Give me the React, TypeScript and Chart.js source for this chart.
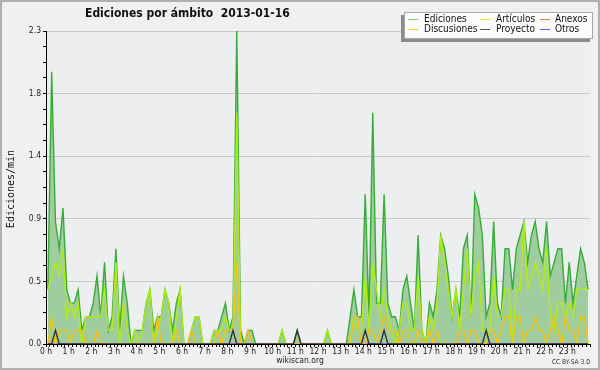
import React, { useEffect, useRef } from "react";
import { Chart, registerables } from "chart.js";

Chart.register(...registerables);

// 10-minute slots, 2013-01-16, edits per minute
const SLOT_MINUTES = 10;

const EDICIONES = [
  0.4, 2.0, 0.9, 0.7, 1.0, 0.4, 0.3, 0.3, 0.4, 0.1, 0.2, 0.2,
  0.3, 0.5, 0.2, 0.6, 0.1, 0.2, 0.7, 0.1, 0.5, 0.3, 0.0, 0.1,
  0.1, 0.1, 0.3, 0.4, 0.1, 0.2, 0.2, 0.4, 0.3, 0.1, 0.3, 0.4,
  0.0, 0.0, 0.1, 0.2, 0.2, 0.0, 0.0, 0.0, 0.1, 0.1, 0.2, 0.3,
  0.1, 0.2, 2.3, 0.1, 0.0, 0.1, 0.1, 0.0, 0.0, 0.0, 0.0, 0.0,
  0.0, 0.0, 0.1, 0.0, 0.0, 0.0, 0.1, 0.0, 0.0, 0.0, 0.0, 0.0,
  0.0, 0.0, 0.1, 0.0, 0.0, 0.0, 0.0, 0.0, 0.2, 0.4, 0.2, 0.2,
  1.1, 0.2, 1.7, 0.3, 0.3, 1.1, 0.3, 0.2, 0.2, 0.1, 0.4, 0.5,
  0.3, 0.1, 0.8, 0.1, 0.0, 0.3, 0.2, 0.4, 0.8, 0.7, 0.5, 0.2,
  0.4, 0.2, 0.7, 0.8, 0.2, 1.1, 1.0, 0.8, 0.2, 0.3, 0.9, 0.3,
  0.2, 0.7, 0.7, 0.4, 0.7, 0.8, 0.9, 0.6, 0.8, 0.9, 0.7, 0.6,
  0.9, 0.5, 0.6, 0.7, 0.7, 0.3, 0.6, 0.3, 0.5, 0.7, 0.6, 0.4,
];

const ARTICULOS = [
  0.4, 0.5, 0.6, 0.5, 0.7, 0.2, 0.3, 0.2, 0.3, 0.0, 0.2, 0.2,
  0.2, 0.2, 0.2, 0.4, 0.1, 0.1, 0.6, 0.0, 0.3, 0.1, 0.0, 0.1,
  0.0, 0.1, 0.3, 0.4, 0.0, 0.1, 0.2, 0.4, 0.3, 0.0, 0.2, 0.4,
  0.0, 0.0, 0.1, 0.2, 0.2, 0.0, 0.0, 0.0, 0.1, 0.1, 0.1, 0.2,
  0.1, 0.1, 1.7, 0.0, 0.0, 0.0, 0.0, 0.0, 0.0, 0.0, 0.0, 0.0,
  0.0, 0.0, 0.1, 0.0, 0.0, 0.0, 0.0, 0.0, 0.0, 0.0, 0.0, 0.0,
  0.0, 0.0, 0.1, 0.0, 0.0, 0.0, 0.0, 0.0, 0.0, 0.2, 0.1, 0.1,
  0.5, 0.1, 0.6, 0.4, 0.2, 0.4, 0.2, 0.1, 0.0, 0.1, 0.3, 0.3,
  0.1, 0.1, 0.5, 0.1, 0.0, 0.2, 0.1, 0.3, 0.8, 0.6, 0.4, 0.2,
  0.4, 0.1, 0.4, 0.7, 0.2, 0.5, 0.6, 0.1, 0.1, 0.1, 0.5, 0.2,
  0.2, 0.4, 0.4, 0.0, 0.4, 0.4, 0.9, 0.4, 0.5, 0.6, 0.5, 0.4,
  0.7, 0.2, 0.1, 0.3, 0.3, 0.2, 0.3, 0.2, 0.4, 0.4, 0.4, 0.4,
];

const DISCUSIONES = [
  0.0, 0.2, 0.0, 0.1, 0.1, 0.1, 0.0, 0.1, 0.1, 0.1, 0.0, 0.0,
  0.0, 0.1, 0.0, 0.0, 0.0, 0.0, 0.0, 0.0, 0.0, 0.0, 0.0, 0.0,
  0.0, 0.0, 0.0, 0.0, 0.0, 0.2, 0.0, 0.0, 0.0, 0.0, 0.1, 0.0,
  0.0, 0.0, 0.1, 0.0, 0.0, 0.0, 0.0, 0.0, 0.0, 0.1, 0.0, 0.1,
  0.1, 0.1, 0.6, 0.0, 0.0, 0.1, 0.0, 0.0, 0.0, 0.0, 0.0, 0.0,
  0.0, 0.0, 0.0, 0.0, 0.0, 0.0, 0.0, 0.0, 0.0, 0.0, 0.0, 0.0,
  0.0, 0.0, 0.0, 0.0, 0.0, 0.0, 0.0, 0.0, 0.0, 0.2, 0.2, 0.0,
  0.0, 0.1, 0.1, 0.0, 0.1, 0.2, 0.1, 0.1, 0.1, 0.0, 0.1, 0.1,
  0.0, 0.0, 0.1, 0.0, 0.0, 0.1, 0.0, 0.1, 0.0, 0.0, 0.0, 0.0,
  0.0, 0.1, 0.1, 0.0, 0.1, 0.1, 0.0, 0.0, 0.0, 0.1, 0.1, 0.0,
  0.1, 0.2, 0.2, 0.0, 0.2, 0.2, 0.0, 0.1, 0.1, 0.2, 0.1, 0.1,
  0.0, 0.1, 0.2, 0.1, 0.0, 0.2, 0.1, 0.1, 0.0, 0.2, 0.2, 0.0,
];

const PROYECTO = [
  0.0, 0.0, 0.1, 0.0, 0.0, 0.0, 0.0, 0.0, 0.0, 0.0, 0.0, 0.0,
  0.0, 0.0, 0.0, 0.0, 0.0, 0.0, 0.0, 0.0, 0.0, 0.0, 0.0, 0.0,
  0.0, 0.0, 0.0, 0.0, 0.0, 0.0, 0.0, 0.0, 0.0, 0.0, 0.0, 0.0,
  0.0, 0.0, 0.0, 0.0, 0.0, 0.0, 0.0, 0.0, 0.0, 0.0, 0.0, 0.0,
  0.0, 0.1, 0.0, 0.0, 0.0, 0.0, 0.0, 0.0, 0.0, 0.0, 0.0, 0.0,
  0.0, 0.0, 0.0, 0.0, 0.0, 0.0, 0.1, 0.0, 0.0, 0.0, 0.0, 0.0,
  0.0, 0.0, 0.0, 0.0, 0.0, 0.0, 0.0, 0.0, 0.0, 0.0, 0.0, 0.0,
  0.1, 0.0, 0.0, 0.0, 0.0, 0.1, 0.0, 0.0, 0.0, 0.0, 0.0, 0.0,
  0.0, 0.0, 0.0, 0.0, 0.0, 0.0, 0.0, 0.0, 0.0, 0.0, 0.0, 0.0,
  0.0, 0.0, 0.0, 0.0, 0.0, 0.0, 0.0, 0.0, 0.1, 0.0, 0.0, 0.0,
  0.0, 0.0, 0.0, 0.0, 0.0, 0.0, 0.0, 0.0, 0.0, 0.0, 0.0, 0.0,
  0.0, 0.0, 0.0, 0.0, 0.0, 0.0, 0.0, 0.0, 0.0, 0.0, 0.0, 0.0,
];

const ANEXOS: number[] = new Array(144).fill(0);
const OTROS: number[] = new Array(144).fill(0);

const Y_MAX = 2.3;
const Y_MINOR_STEPS = 20; // 5 labelled intervals, 4 minor steps each
const X_MAX_MINUTES = 1440;

const TITLE = "Ediciones por ámbito  2013-01-16";
const Y_TITLE = "Ediciones/min";
const FOOTER = "wikiscan.org";
const LICENSE = "CC BY-SA 3.0";

const LEGEND = [
  { label: "Ediciones", color: "#7fd07f" },
  { label: "Artículos", color: "#c8f030" },
  { label: "Anexos", color: "#ff7040" },
  { label: "Discusiones", color: "#ffcc33" },
  { label: "Proyecto", color: "#555555" },
  { label: "Otros", color: "#8844ee" },
];

const COND = "'DejaVu Sans Condensed', 'DejaVu Sans', sans-serif";

export default function App() {
  const ref = useRef<HTMLCanvasElement>(null);

  useEffect(() => {
    const canvas = ref.current!;
    const pts = (arr: number[]) =>
      arr.map((v, i) => ({ x: (i + 0.5) * SLOT_MINUTES, y: v }));

    const plotBg = {
      id: "plotBg",
      beforeDraw(chart: any) {
        const { ctx, chartArea: ca } = chart;
        ctx.save();
        ctx.fillStyle = "#f0f0f0";
        ctx.fillRect(0, 0, chart.width, chart.height);
        ctx.fillStyle = "#edeef0";
        ctx.fillRect(ca.left, ca.top, ca.right - ca.left, ca.bottom - ca.top);
        ctx.restore();
      },
    };

    const tickFont = { family: COND, size: 8.5 };

    const chart = new Chart(canvas, {
      type: "line",
      data: {
        datasets: [
          { label: "Proyecto", data: pts(PROYECTO), borderColor: "#333333", order: 1 },
          { label: "Discusiones", data: pts(DISCUSIONES), borderColor: "#f2c40c", order: 2 },
          { label: "Otros", data: pts(OTROS), borderColor: "#8844ee", order: 3 },
          { label: "Anexos", data: pts(ANEXOS), borderColor: "#ff7040", order: 4 },
          { label: "Artículos", data: pts(ARTICULOS), borderColor: "#b0ec14", order: 5 },
          {
            label: "Ediciones",
            data: pts(EDICIONES),
            borderColor: "#38ac38",
            backgroundColor: "#a0cd9f",
            fill: "origin",
            order: 6,
          },
        ],
      },
      options: {
        animation: false,
        responsive: false,
        events: [],
        layout: { padding: { top: 31, right: 10, left: 0, bottom: 0 } },
        plugins: { legend: { display: false }, tooltip: { enabled: false }, title: { display: false } },
        elements: {
          point: { radius: 0 },
          line: { tension: 0, borderWidth: 1.4, fill: false },
        },
        scales: {
          x: {
            type: "linear",
            min: 0,
            max: X_MAX_MINUTES,
            z: 1,
            afterBuildTicks: (s: any) => {
              s.ticks = Array.from({ length: X_MAX_MINUTES / SLOT_MINUTES + 1 }, (_, k) => ({
                value: k * SLOT_MINUTES,
              }));
            },
            afterFit: (s: any) => {
              s.height = 26;
            },
            ticks: {
              autoSkip: false,
              maxRotation: 0,
              minRotation: 0,
              padding: 0,
              color: "#222",
              font: tickFont,
              callback: (v: any) =>
                Number(v) % 60 === 0 && Number(v) < X_MAX_MINUTES ? `${Number(v) / 60} h` : "",
            },
            grid: { drawOnChartArea: false, tickLength: 3, tickColor: "#000", tickWidth: 1 },
            border: { color: "#000", width: 1 },
          },
          y: {
            min: 0,
            max: Y_MAX,
            z: 1,
            afterBuildTicks: (s: any) => {
              s.ticks = Array.from({ length: Y_MINOR_STEPS + 1 }, (_, k) => ({
                value: (k * Y_MAX) / Y_MINOR_STEPS,
              }));
            },
            afterFit: (s: any) => {
              s.width = 46;
            },
            ticks: {
              autoSkip: false,
              padding: 2,
              color: "#222",
              font: tickFont,
              callback: (v: any, i: number) => (i % 4 === 0 ? Number(v).toFixed(1) : ""),
            },
            grid: {
              color: (ctx: any) => (ctx.index % 4 === 0 && ctx.index > 0 ? "#c8c8c8" : "rgba(0,0,0,0)"),
              tickColor: "#000",
              tickLength: 3,
            },
            border: { color: "#000", width: 1 },
          },
        },
      },
      plugins: [plotBg],
    });
    return () => chart.destroy();
  }, []);

  const legendCols = [408, 480, 540];
  const legendTextCols = [424, 496, 555];
  const legendRows = [19, 29];

  return (
    <div
      style={{
        position: "absolute",
        left: 0,
        top: 0,
        width: 600,
        height: 370,
        overflow: "hidden",
        background: "#f0f0f0",
      }}
    >
      <canvas ref={ref} width={600} height={370} style={{ position: "absolute", left: 0, top: 0 }} />
      <div
        style={{
          position: "absolute",
          left: 0,
          top: 0,
          width: 600,
          height: 370,
          boxSizing: "border-box",
          border: "2px solid #b0b0b0",
          pointerEvents: "none",
        }}
      />
      <div
        style={{
          position: "absolute",
          left: 85,
          top: 7,
          font: `bold 12px ${COND}`,
          lineHeight: "12px",
          whiteSpace: "pre",
          color: "#111",
        }}
      >
        {TITLE}
      </div>
      <div
        style={{
          position: "absolute",
          left: 10,
          top: 189,
          transform: "translate(-50%, -50%) rotate(-90deg)",
          font: "10px 'DejaVu Sans Mono', monospace",
          whiteSpace: "nowrap",
          color: "#111",
        }}
      >
        {Y_TITLE}
      </div>
      <div
        style={{
          position: "absolute",
          left: 404,
          top: 12,
          width: 189,
          height: 27,
          boxSizing: "border-box",
          background: "#fcfcfc",
          border: "1px solid #a8a8a8",
          boxShadow: "-3px 3px 0 #8c8c8c",
        }}
      />
      {LEGEND.map((item, k) => {
        const col = k % 3;
        const row = Math.floor(k / 3);
        return (
          <React.Fragment key={item.label}>
            <div
              style={{
                position: "absolute",
                left: legendCols[col],
                top: legendRows[row],
                width: 10,
                height: 1,
                background: item.color,
              }}
            />
            <div
              style={{
                position: "absolute",
                left: legendTextCols[col],
                top: legendRows[row] - 6,
                font: `10px ${COND}`,
                lineHeight: "11px",
                whiteSpace: "nowrap",
                color: "#111",
              }}
            >
              {item.label}
            </div>
          </React.Fragment>
        );
      })}
      <div
        style={{
          position: "absolute",
          left: 0,
          width: 600,
          top: 355,
          textAlign: "center",
          font: `8.5px ${COND}`,
          lineHeight: "10px",
          color: "#222",
        }}
      >
        {FOOTER}
      </div>
      <div
        style={{
          position: "absolute",
          right: 10,
          top: 358,
          font: `6.6px ${COND}`,
          lineHeight: "8px",
          color: "#333",
        }}
      >
        {LICENSE}
      </div>
    </div>
  );
}
